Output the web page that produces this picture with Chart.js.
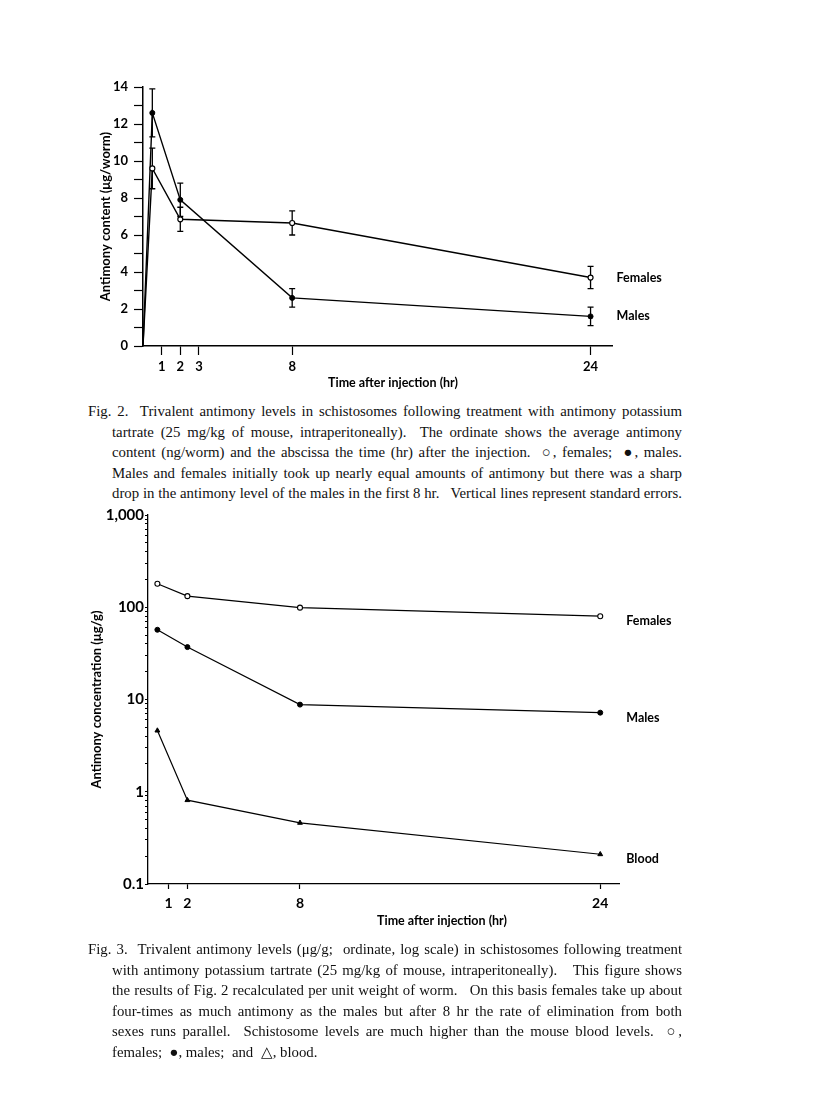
<!DOCTYPE html>
<html>
<head>
<meta charset="utf-8">
<script src="https://cdn.jsdelivr.net/npm/chart.js@4"></script>
<style>
  body { margin: 0; background: #fff; }
  #page { position: relative; width: 816px; height: 1120px; overflow: hidden; }
  canvas { position: absolute; left: 0; }
  .cap { position: absolute; left: 88px; font-family: 'Liberation Serif', serif; font-size: 14.8px; line-height: 20.6px; color: #111; }
  .cap div { white-space: nowrap; text-align: justify; text-align-last: justify; }
  .cap .first { width: 594px; }
  .cap .rest { margin-left: 24px; width: 570px; }
  .cap .end { text-align-last: left; }
</style>
</head>
<body>
<div id="page">
  <canvas id="fig2" width="816" height="350" style="top:50px"></canvas>
  <div class="cap" style="top:401px">
    <div class="first">Fig. 2.&nbsp; Trivalent antimony levels in schistosomes following treatment with antimony potassium</div>
    <div class="rest">tartrate (25 mg/kg of mouse, intraperitoneally).&nbsp; The ordinate shows the average antimony</div>
    <div class="rest">content (ng/worm) and the abscissa the time (hr) after the injection.&nbsp; ○, females;&nbsp; ●, males.</div>
    <div class="rest">Males and females initially took up nearly equal amounts of antimony but there was a sharp</div>
    <div class="rest">drop in the antimony level of the males in the first 8 hr.&nbsp;&nbsp; Vertical lines represent standard errors.</div>
  </div>
  <canvas id="fig3" width="816" height="450" style="top:490px"></canvas>
  <div class="cap" style="top:939px">
    <div class="first">Fig. 3.&nbsp; Trivalent antimony levels (μg/g;&nbsp; ordinate, log scale) in schistosomes following treatment</div>
    <div class="rest">with antimony potassium tartrate (25 mg/kg of mouse, intraperitoneally).&nbsp;&nbsp; This figure shows</div>
    <div class="rest">the results of Fig. 2 recalculated per unit weight of worm.&nbsp;&nbsp; On this basis females take up about</div>
    <div class="rest">four-times as much antimony as the males but after 8 hr the rate of elimination from both</div>
    <div class="rest">sexes runs parallel.&nbsp; Schistosome levels are much higher than the mouse blood levels.&nbsp; ○,</div>
    <div class="rest end">females;&nbsp; ●, males;&nbsp; and&nbsp; △, blood.</div>
  </div>
</div>
<script>
// Fig. 2 - content per worm (linear)
const fig2Hours = [0, 0.5, 2, 8, 24];
const fig2Females = [0, 9.6, 6.85, 6.65, 3.7];
const fig2FemalesSE = [0, 1.1, 0.65, 0.65, 0.6];
const fig2Males = [0, 12.6, 7.9, 2.6, 1.6];
const fig2MalesSE = [0, 1.3, 0.9, 0.5, 0.5];
const fig2XTicks = [1, 2, 3, 8, 24];

// Fig. 3 - concentration (log)
const fig3Hours = [0.4, 2, 8, 24];
const fig3Females = [180, 132, 99, 80];
const fig3Males = [57, 37, 8.8, 7.2];
const fig3Blood = [4.6, 0.81, 0.46, 0.21];
const fig3XTicks = [1, 2, 8, 24];
const fig3YMajor = [0.1, 1, 10, 100, 1000];
const fig3YLabels = ['0.1', '1', '10', '100', '1,000'];

Chart.defaults.font.family = 'Lato';
Chart.defaults.color = '#000';

const pts = (xs, ys) => xs.map((x, i) => ({ x: x, y: ys[i] }));

// error bars under the points, series names + x title on top
const decor = {
    id: 'decor',
    beforeDatasetsDraw(chart) {
        const ctx = chart.ctx;
        const y = chart.scales.y;
        ctx.save();
        ctx.strokeStyle = '#000';
        ctx.lineWidth = 1.3;
        chart.data.datasets.forEach((ds, i) => {
            if (!ds.errors) return;
            const meta = chart.getDatasetMeta(i);
            ds.errors.forEach((e, j) => {
                if (!e) return;
                const px = meta.data[j].x;
                const top = y.getPixelForValue(ds.data[j].y + e);
                const bot = y.getPixelForValue(ds.data[j].y - e);
                ctx.beginPath();
                ctx.moveTo(px, top); ctx.lineTo(px, bot);
                ctx.moveTo(px - 3, top); ctx.lineTo(px + 3, top);
                ctx.moveTo(px - 3, bot); ctx.lineTo(px + 3, bot);
                ctx.stroke();
            });
        });
        ctx.restore();
    },
    afterDatasetsDraw(chart, args, opts) {
        const ctx = chart.ctx;
        ctx.save();
        ctx.fillStyle = '#000';
        ctx.font = 'bold 12.5px Lato';
        ctx.textBaseline = 'middle';
        chart.data.datasets.forEach((ds, i) => {
            const meta = chart.getDatasetMeta(i);
            const last = meta.data[meta.data.length - 1];
            ctx.textAlign = 'left';
            ctx.fillText(ds.label, last.x + 26, last.y + opts.labelDy);
        });
        ctx.textAlign = 'center';
        ctx.fillText(opts.xTitle, opts.xTitleX, opts.xTitleY);
        ctx.restore();
    }
};

const tickGrid = (len) => ({
    display: true, drawOnChartArea: false, drawTicks: true,
    tickLength: len, tickColor: '#000', tickWidth: 1.2
});

new Chart(document.getElementById('fig2'), {
    type: 'line',
    data: {
        datasets: [
            {
                label: 'Females', data: pts(fig2Hours, fig2Females), errors: fig2FemalesSE,
                borderColor: '#000', borderWidth: 1.4, tension: 0,
                pointRadius: [0, 2.5, 2.5, 2.5, 2.5], pointBackgroundColor: '#fff',
                pointBorderColor: '#000', pointBorderWidth: 1.2
            },
            {
                label: 'Males', data: pts(fig2Hours, fig2Males), errors: fig2MalesSE,
                borderColor: '#000', borderWidth: 1.4, tension: 0,
                pointRadius: [0, 2.5, 2.5, 2.5, 2.5], pointBackgroundColor: '#000',
                pointBorderColor: '#000', pointBorderWidth: 1
            }
        ]
    },
    options: {
        responsive: false,
        animation: false,
        layout: { padding: { top: 37, right: 204, left: 0, bottom: 0 } },
        plugins: {
            legend: { display: false },
            tooltip: { enabled: false },
            decor: { labelDy: 0, xTitle: 'Time after injection (hr)', xTitleX: 393, xTitleY: 333 }
        },
        scales: {
            x: {
                type: 'linear', min: 0, max: 25.15,
                afterBuildTicks: s => { s.ticks = fig2XTicks.map(v => ({ value: v })); },
                afterFit: s => { s.height = 54; },
                ticks: { autoSkip: false, maxRotation: 0, padding: 4, font: { size: 13, weight: 'bold' }, callback: v => String(v) },
                grid: tickGrid(9),
                border: { display: true, color: '#000', width: 1.5 }
            },
            y: {
                min: 0, max: 14,
                afterFit: s => { s.width = 143; },
                ticks: { stepSize: 1, autoSkip: false, padding: 6, font: { size: 13, weight: 'bold' },
                         callback: v => (v % 2 === 0 ? String(v) : '') },
                grid: tickGrid(9),
                border: { display: true, color: '#000', width: 1.5 },
                title: { display: true, text: 'Antimony content (μg/worm)', font: { size: 13, weight: 'bold' },
                         padding: { top: 98, bottom: 0 } }
            }
        }
    },
    plugins: [decor]
});

new Chart(document.getElementById('fig3'), {
    type: 'line',
    data: {
        datasets: [
            {
                label: 'Females', data: pts(fig3Hours, fig3Females),
                borderColor: '#000', borderWidth: 1.2, tension: 0,
                pointRadius: 2.5, pointBackgroundColor: '#fff',
                pointBorderColor: '#000', pointBorderWidth: 1.1
            },
            {
                label: 'Males', data: pts(fig3Hours, fig3Males),
                borderColor: '#000', borderWidth: 1.2, tension: 0,
                pointRadius: 2.5, pointBackgroundColor: '#000',
                pointBorderColor: '#000', pointBorderWidth: 1
            },
            {
                label: 'Blood', data: pts(fig3Hours, fig3Blood),
                borderColor: '#000', borderWidth: 1.2, tension: 0,
                pointStyle: 'triangle', pointRadius: 2.8, pointBackgroundColor: '#000',
                pointBorderColor: '#000', pointBorderWidth: 1
            }
        ]
    },
    options: {
        responsive: false,
        animation: false,
        layout: { padding: { top: 25, right: 197, left: 0, bottom: 0 } },
        plugins: {
            legend: { display: false },
            tooltip: { enabled: false },
            decor: { labelDy: 5, xTitle: 'Time after injection (hr)', xTitleX: 442, xTitleY: 431 }
        },
        scales: {
            x: {
                type: 'linear', min: -0.1, max: 25,
                afterBuildTicks: s => { s.ticks = fig3XTicks.map(v => ({ value: v })); },
                afterFit: s => { s.height = 56; },
                ticks: { autoSkip: false, maxRotation: 0, padding: 6, font: { size: 14, weight: 'bold' }, callback: v => String(v) },
                grid: tickGrid(5),
                border: { display: true, color: '#000', width: 1.3 }
            },
            y: {
                type: 'logarithmic', min: 0.1, max: 1000,
                afterBuildTicks: s => {
                    const t = [];
                    fig3YMajor.forEach((m, k) => {
                        t.push({ value: m });
                        if (k < fig3YMajor.length - 1) {
                            for (let f = 2; f <= 9; f++) t.push({ value: m * f });
                        }
                    });
                    s.ticks = t;
                },
                afterFit: s => { s.width = 148; },
                ticks: { autoSkip: false, padding: 1, font: { size: 15, weight: 'bold' },
                         callback: v => { const k = fig3YMajor.indexOf(v); return k >= 0 ? fig3YLabels[k] : ''; } },
                grid: tickGrid(3),
                border: { display: true, color: '#000', width: 1.3 },
                title: { display: true, text: 'Antimony concentration (μg/g)', font: { size: 13, weight: 'bold' },
                         padding: { top: 89, bottom: 0 } }
            }
        }
    },
    plugins: [decor]
});
</script>
</body>
</html>
